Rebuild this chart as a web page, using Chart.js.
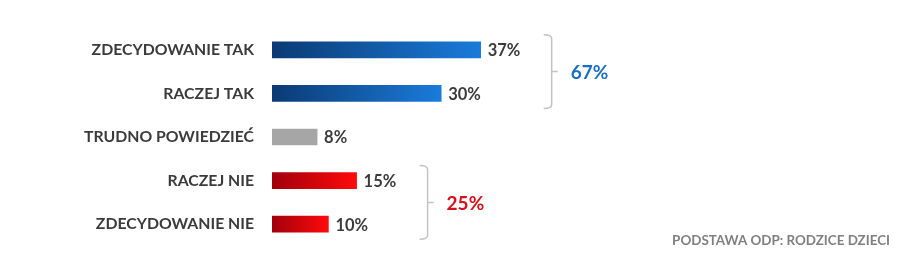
<!DOCTYPE html>
<html>
<head>
<meta charset="utf-8">
<script src="https://cdn.jsdelivr.net/npm/chart.js@4/dist/chart.umd.min.js"></script>
<style>
  html, body { margin: 0; padding: 0; background: #fff; overflow: hidden; }
  canvas { display: block; }
</style>
</head>
<body>
<canvas id="chart" width="911" height="255"></canvas>
<script>
const categories = ['ZDECYDOWANIE TAK', 'RACZEJ TAK', 'TRUDNO POWIEDZIEĆ', 'RACZEJ NIE', 'ZDECYDOWANIE NIE'];
const values = [37, 30, 8, 15, 10];
const groupLabels = ['67%', '25%'];
const groupRanges = [[0, 1], [3, 4]];
const footerText = 'PODSTAWA ODP: RODZICE DZIECI';

const FONT = 'Lato, "Open Sans", sans-serif';

// gradient stops per bar (left -> right)
const barColors = [
  ['#0b3a74', '#1a7bda'],
  ['#0b3a74', '#1a7bda'],
  ['#a6a6a6', '#a6a6a6'],
  ['#a0000c', '#ff0a0a'],
  ['#a0000c', '#ff0a0a']
];
const groupColors = ['#1c6fc0', '#d7111c'];

// value labels at the end of each bar
const valueLabels = {
  id: 'valueLabels',
  afterDatasetsDraw(chart) {
    const ctx = chart.ctx;
    const meta = chart.getDatasetMeta(0);
    ctx.save();
    ctx.font = 'bold 16.5px ' + FONT;
    ctx.fillStyle = '#3b3b3b';
    ctx.textBaseline = 'middle';
    ctx.textAlign = 'left';
    meta.data.forEach((bar, i) => {
      ctx.fillText(values[i] + '%', bar.x + 7, bar.y + 1);
    });
    ctx.restore();
  }
};

// brackets with group totals + footer note
const brackets = {
  id: 'brackets',
  afterDraw(chart) {
    const ctx = chart.ctx;
    const x = chart.scales.x, y = chart.scales.y;
    ctx.save();
    groupRanges.forEach((r, g) => {
      const maxVal = Math.max(...values.slice(r[0], r[1] + 1));
      const bx = x.getPixelForValue(maxVal) + 71;
      const top = y.getPixelForValue(r[0]) - 15;
      const bot = y.getPixelForValue(r[1]) + 15;
      const mid = (top + bot) / 2;
      ctx.strokeStyle = '#c3c3c3';
      ctx.lineWidth = 1.5;
      ctx.beginPath();
      ctx.moveTo(bx - 8, top);
      ctx.quadraticCurveTo(bx, top, bx, top + 4);
      ctx.lineTo(bx, bot - 4);
      ctx.quadraticCurveTo(bx, bot, bx - 8, bot);
      ctx.moveTo(bx, mid);
      ctx.lineTo(bx + 6, mid);
      ctx.stroke();

      ctx.font = 'bold 19px ' + FONT;
      ctx.fillStyle = groupColors[g];
      ctx.textAlign = 'left';
      ctx.textBaseline = 'middle';
      ctx.fillText(groupLabels[g], bx + 19, mid + 1);
    });

    ctx.font = 'bold 13.4px ' + FONT;
    ctx.fillStyle = '#808080';
    ctx.textAlign = 'right';
    ctx.textBaseline = 'middle';
    ctx.fillText(footerText, 890, 241);
    ctx.restore();
  }
};

new Chart(document.getElementById('chart'), {
  type: 'bar',
  data: {
    labels: categories,
    datasets: [{
      data: values,
      barThickness: 16,
      borderWidth: 0,
      backgroundColor: (c) => {
        const chart = c.chart;
        if (!chart.chartArea || c.dataIndex === undefined) return '#a6a6a6';
        const i = c.dataIndex;
        const x0 = chart.scales.x.getPixelForValue(0);
        const x1 = chart.scales.x.getPixelForValue(values[i]);
        const grad = chart.ctx.createLinearGradient(x0, 0, x1, 0);
        grad.addColorStop(0, barColors[i][0]);
        grad.addColorStop(1, barColors[i][1]);
        return grad;
      }
    }]
  },
  options: {
    indexAxis: 'y',
    responsive: false,
    animation: false,
    layout: { padding: { left: 0, right: 75, top: 28, bottom: 9 } },
    plugins: {
      legend: { display: false },
      tooltip: { enabled: false }
    },
    scales: {
      x: { display: false, min: 0, max: 100 },
      y: {
        afterFit: (axis) => {
          axis.width = 272;
          // tick padding shouldn't eat vertical space
          axis.paddingTop = 0;
          axis.paddingBottom = 0;
        },
        grid: { display: false, drawTicks: false },
        border: { display: false },
        ticks: {
          padding: 18,
          color: '#3b3b3b',
          font: { family: FONT, size: 15.8, weight: 'bold' }
        }
      }
    }
  },
  plugins: [valueLabels, brackets]
});
</script>
</body>
</html>
